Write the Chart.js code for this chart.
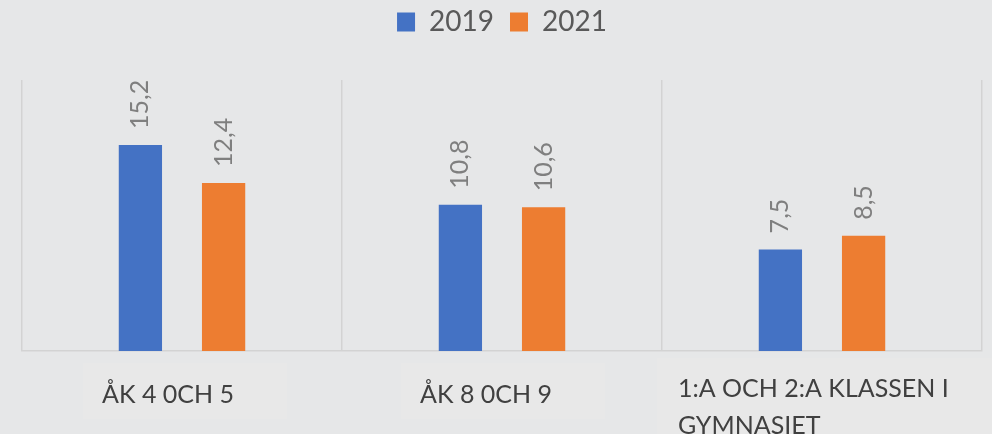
<!DOCTYPE html>
<html>
<head>
<meta charset="utf-8">
<script src="https://cdn.jsdelivr.net/npm/chart.js@4"></script>
<style>
  body { margin: 0; background: #e6e7e8; }
  #wrap { width: 992px; height: 434px; }
</style>
</head>
<body>
<div id="wrap"><canvas id="chart" width="992" height="434"></canvas></div>
<script>
// Data
const categories = ['ÅK 4 0CH 5', 'ÅK 8 0CH 9', ['1:A OCH 2:A KLASSEN I', 'GYMNASIET']];
const series2019 = [15.2, 10.8, 7.5];
const series2021 = [12.4, 10.6, 8.5];
const seriesNames = ['2019', '2021'];

const FONT = 'Lato';

// make room between legend and plot
const legendSpace = {
    id: 'legendSpace',
    beforeInit(chart) {
        const fit = chart.legend.fit;
        chart.legend.fit = function () {
            fit.call(this);
            this.height = 88;
        };
    }
};

// value labels, rotated, above each bar
const valueLabels = {
    id: 'valueLabels',
    afterDatasetsDraw(chart) {
        const ctx = chart.ctx;
        ctx.save();
        ctx.fillStyle = '#7f7f7f';
        ctx.font = '25px ' + FONT;
        ctx.textAlign = 'left';
        ctx.textBaseline = 'middle';
        chart.data.datasets.forEach((ds, di) => {
            chart.getDatasetMeta(di).data.forEach((bar, i) => {
                ctx.save();
                ctx.translate(bar.x, bar.y - 16);
                ctx.rotate(-Math.PI / 2);
                ctx.fillText(ds.data[i].toFixed(1).replace('.', ','), 0, 0);
                ctx.restore();
            });
        });
        ctx.restore();
    }
};

// category labels, left aligned inside a box under each category
const categoryLabels = {
    id: 'categoryLabels',
    afterDraw(chart) {
        const ctx = chart.ctx;
        const x = chart.scales.x;
        const shift = [-80, -82, -144];
        const base = [403, 403, 397];
        ctx.save();
        ctx.font = '25px ' + FONT;
        ctx.textAlign = 'left';
        ctx.textBaseline = 'alphabetic';
        categories.forEach((lab, i) => {
            const cx = x.getPixelForValue(i);
            const lines = Array.isArray(lab) ? lab : [lab];
            ctx.fillStyle = '#e8e8e8';
            if (lines.length > 1) ctx.fillRect(cx + shift[i] - 21, 358, 340, 80);
            else ctx.fillRect(cx + shift[i] - 19, 363, 204, 56);
            ctx.fillStyle = '#404040';
            lines.forEach((l, j) => ctx.fillText(l, cx + shift[i], base[i] + j * 37));
        });
        ctx.restore();
    }
};

new Chart(document.getElementById('chart'), {
    type: 'bar',
    data: {
        labels: categories,
        datasets: [
            { label: seriesNames[0], data: series2019, backgroundColor: '#4472c4' },
            { label: seriesNames[1], data: series2021, backgroundColor: '#ed7d31' }
        ]
    },
    options: {
        responsive: false,
        animation: false,
        layout: { padding: { left: 22, right: 10, top: -8, bottom: 83 } },
        categoryPercentage: 0.52,
        barPercentage: 0.52,
        scales: {
            x: {
                offset: true,
                grid: { offset: true, color: '#d3d3d3', lineWidth: 1.5, drawTicks: false },
                border: { color: '#d3d3d3', width: 1.5 },
                ticks: { display: false }
            },
            y: { display: false, min: 0, max: 20 }
        },
        plugins: {
            legend: {
                position: 'top',
                labels: {
                    font: { family: FONT, size: 28 },
                    color: '#595959',
                    boxWidth: 18,
                    boxHeight: 19,
                    padding: 16
                }
            },
            tooltip: { enabled: false }
        }
    },
    plugins: [legendSpace, valueLabels, categoryLabels]
});
</script>
</body>
</html>
